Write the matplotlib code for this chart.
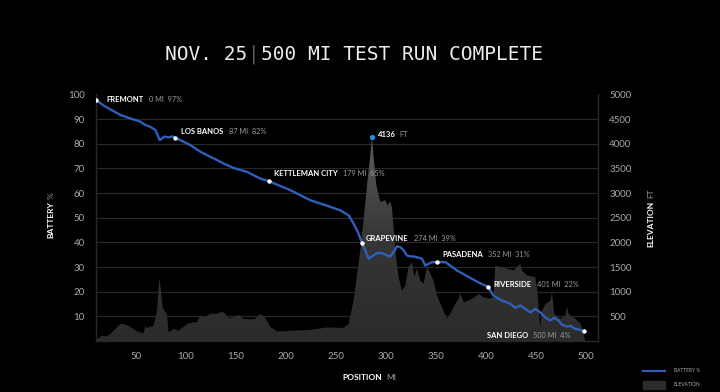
import numpy as np
import matplotlib.pyplot as plt
from matplotlib.colors import LinearSegmentedColormap
from matplotlib.lines import Line2D
from matplotlib.patches import Rectangle

# battery trace (position on chart axis, battery %)
bat_pos = [10.3, 14.3, 19.3, 34.3, 44.3, 54.3, 59.3, 64.3, 69.3, 71.6,
           73.6, 76.0, 78.3, 82.6, 86.0, 89.3, 104.3, 114.3, 121.0, 127.6,
           137.6, 147.6, 161.0, 174.3, 183.0, 204.3, 224.3, 241.0, 254.3, 262.6,
           267.6, 272.6, 276.0, 279.3, 282.6, 286.0, 291.0, 296.0, 301.0, 304.3,
           307.6, 311.0, 314.3, 317.6, 321.0, 324.3, 327.6, 332.6, 336.0, 339.3,
           342.6, 346.0, 350.6, 359.3, 364.3, 371.0, 376.0, 384.3, 394.3, 401.6,
           407.6, 414.3, 424.3, 429.3, 434.3, 439.3, 444.3, 449.3, 454.3, 459.3,
           464.3, 468.3, 472.6, 476.0, 481.0, 484.3, 489.3, 494.3, 498.3]
bat_pct = [97.8, 96.5, 95.1, 91.7, 90.3, 89.0, 87.6, 86.9, 85.6, 83.6,
           81.5, 82.2, 82.9, 82.6, 83.0, 82.5, 79.5, 76.8, 75.4, 74.1,
           72.0, 70.2, 68.6, 65.9, 64.8, 61.2, 57.1, 54.9, 53.0, 51.0,
           47.6, 43.5, 39.7, 36.8, 33.4, 34.3, 35.7, 35.7, 34.7, 34.3,
           36.1, 38.4, 38.1, 36.8, 34.7, 34.3, 34.3, 33.8, 33.4, 30.6,
           31.3, 32.0, 32.0, 32.0, 30.6, 28.6, 27.5, 25.6, 23.4, 22.1,
           18.4, 16.7, 15.1, 13.4, 14.4, 13.0, 11.6, 13.0, 11.6, 9.6,
           8.3, 9.4, 8.3, 6.6, 5.8, 6.2, 4.9, 4.5, 3.9]

# elevation profile (position, feet)
elev_pos = [10.0, 12.6, 16.0, 21.0, 26.0, 34.3, 37.6, 44.3, 51.0, 57.6,
            59.3, 61.0, 67.6, 71.0, 73.3, 75.0, 76.6, 79.3, 81.0, 82.6,
            87.6, 92.6, 97.6, 101.0, 107.6, 111.0, 114.3, 119.3, 124.3, 131.0,
            136.0, 139.3, 142.6, 147.6, 152.6, 157.6, 164.3, 169.3, 174.3, 179.3,
            184.3, 191.0, 207.6, 224.3, 241.0, 257.6, 262.6, 267.6, 274.3, 277.6,
            281.0, 284.3, 286.0, 287.6, 290.3, 294.3, 299.3, 301.6, 304.3, 306.0,
            309.3, 312.6, 316.0, 319.3, 322.6, 326.0, 328.3, 331.0, 334.3, 337.6,
            341.0, 344.3, 347.6, 351.0, 356.0, 361.0, 366.0, 369.3, 372.6, 374.3,
            377.6, 382.6, 387.6, 392.6, 397.6, 402.6, 407.6, 409.3, 414.3, 421.0,
            427.6, 431.0, 434.3, 436.0, 441.0, 449.3, 451.6, 454.3, 456.0, 459.3,
            464.3, 466.0, 468.3, 474.3, 479.3, 481.0, 482.6, 489.3, 494.3, 496.0,
            499.3]
elev_ft = [20, 60, 110, 90, 175, 345, 345, 290, 195, 155,
           310, 265, 310, 615, 1280, 1025, 685, 580, 550, 175,
           245, 210, 290, 345, 380, 380, 515, 480, 560, 550,
           595, 550, 470, 480, 530, 450, 435, 450, 550, 470,
           290, 195, 210, 225, 275, 265, 345, 820, 1840, 2450,
           3160, 3770, 4136, 3735, 3160, 2820, 2855, 2750, 2835, 2700,
           1840, 1295, 1025, 1125, 1500, 1600, 1295, 1465, 1225, 1160,
           1500, 1365, 1225, 920, 685, 450, 615, 750, 855, 970,
           785, 820, 875, 955, 885, 860, 885, 1530, 1500, 1465,
           1430, 1500, 1565, 1430, 1330, 1295, 955, 275, 615, 750,
           820, 990, 550, 450, 515, 700, 550, 450, 360, 275,
           0]

# stops
stop_names = ['FREMONT', 'LOS BANOS', 'KETTLEMAN CITY', 'GRAPEVINE',
              'PASADENA', 'RIVERSIDE', 'SAN DIEGO']
stop_miles = [0, 87, 179, 274, 352, 401, 500]
stop_labels = [97, 82, 65, 39, 31, 22, 4]
stop_pos = [10.3, 89.3, 183.0, 276.0, 350.6, 401.6, 498.3]
stop_pct = [97.8, 82.5, 64.8, 39.7, 32.0, 22.1, 3.9]
# label offsets in pixels from the stop marker
stop_offsets = [(10, 0), (6, 6), (5, 8), (4, 5), (6, 8), (6, 2), (-97, -4)]

peak_pos = 286.0
peak_ft = 4136

bat_ticks = [10, 20, 30, 40, 50, 60, 70, 80, 90, 100]
elev_ticks = [500, 1000, 1500, 2000, 2500, 3000, 3500, 4000, 4500, 5000]
pos_ticks = [50, 100, 150, 200, 250, 300, 350, 400, 450, 500]

BLUE = '#2f5fbb'
GRID = '#272727'
TICK = '#a8a8a8'
GREY = '#9a9a9a'
FONT = ['Lato', 'DejaVu Sans']

plt.rcParams['font.family'] = FONT

fig = plt.figure(figsize=(7.2, 3.92), dpi=100, facecolor='black')
ax2 = fig.add_axes([96 / 720, 1 - 341 / 392, 502 / 720, 246.5 / 392])
ax = ax2.twinx()
ax.yaxis.tick_left()
ax.yaxis.set_label_position('left')
ax.set_zorder(ax2.get_zorder() + 1)
ax.patch.set_visible(False)
ax2.set_facecolor('black')

# elevation with vertical gradient
poly = ax2.fill_between(elev_pos, elev_ft, 0, color='#333333', lw=0, zorder=2)
cmap = LinearSegmentedColormap.from_list('elev', ['#2b2b2b', '#363636', '#5e5e5e'])
grad = np.linspace(0, 1, 256).reshape(-1, 1)
img = ax2.imshow(grad, extent=[10, 512, 0, 4200], origin='lower', aspect='auto',
                 cmap=cmap, zorder=3)
img.set_clip_path(poly.get_paths()[0], transform=ax2.transData)
poly.set_visible(False)
ax2.set_xlim(10, 512)
ax2.set_ylim(0, 5000)
ax.set_ylim(0, 100)

ax.plot(bat_pos, bat_pct, color=BLUE, lw=1.7, solid_capstyle='round', zorder=3)
ax.scatter(stop_pos, stop_pct, s=10, color='white', zorder=5, lw=0)
ax2.scatter([peak_pos], [peak_ft], s=14, color='#2b8fe6', zorder=6, lw=0)

ax2.set_yticks(elev_ticks)
ax2.set_xticks(pos_ticks)
ax.set_yticks(bat_ticks)
ax2.yaxis.tick_right()
ax2.grid(axis='y', color=GRID, lw=0.9, zorder=1)
ax2.set_axisbelow(True)

for a in (ax, ax2):
    a.tick_params(length=0, colors=TICK, labelsize=7)
    for s in a.spines.values():
        s.set_color(GRID)
        s.set_linewidth(0.9)
    a.spines['top'].set_visible(False)
ax2.tick_params(axis='y', pad=8)
ax.tick_params(axis='y', pad=8)
ax2.tick_params(axis='x', pad=8)

# stop labels
for name, mi, pc, x, y, off in zip(stop_names, stop_miles, stop_labels,
                                    stop_pos, stop_pct, stop_offsets):
    t = ax.annotate(name, (x, y), xytext=off, textcoords='offset pixels',
                    ha='left', va='center', color='white', fontsize=5.5,
                    fontweight='bold', zorder=7)
    ax.annotate(f'{mi} MI  {pc}%', xy=(1, 0.5), xycoords=t, xytext=(5, 0),
                textcoords='offset pixels', ha='left', va='center',
                color=GREY, fontsize=5.3, zorder=7)

t = ax2.annotate(f'{peak_ft}', (peak_pos, peak_ft), xytext=(6, 3),
                 textcoords='offset pixels', ha='left', va='center',
                 color='white', fontsize=5.5, fontweight='bold')
ax2.annotate('FT', xy=(1, 0.5), xycoords=t, xytext=(4, 0),
             textcoords='offset pixels', ha='left', va='center',
             color=GREY, fontsize=5.3)

# axis titles
fig.text(51 / 720, 1 - 220 / 392, 'BATTERY', rotation=90, ha='center',
         va='center', color='white', fontsize=6, fontweight='bold')
fig.text(51 / 720, 1 - 196 / 392, '%', rotation=90, ha='center', va='center',
         color=GREY, fontsize=6)
fig.text(651 / 720, 1 - 224 / 392, 'ELEVATION', rotation=90, ha='center',
         va='center', color='white', fontsize=6, fontweight='bold')
fig.text(651 / 720, 1 - 193 / 392, 'FT', rotation=90, ha='center', va='center',
         color=GREY, fontsize=6)
fig.text(362 / 720, 1 - 378 / 392, 'POSITION', ha='center', va='center',
         color='white', fontsize=6, fontweight='bold')
fig.text(386 / 720, 1 - 378 / 392, 'MI', ha='left', va='center',
         color=GREY, fontsize=6)

# title
TFONT = ['DejaVu Sans Mono']
t1 = fig.text(165 / 720, 1 - 54 / 392, 'NOV. 25', ha='left', va='center',
              color='#ececec', fontsize=14, family=TFONT)
t2 = ax2.annotate('|', xy=(1, 0.5), xycoords=t1, xytext=(1, 0),
                  textcoords='offset pixels', ha='left', va='center',
                  color='#555555', fontsize=14, family=TFONT)
ax2.annotate('500 MI TEST RUN COMPLETE', xy=(1, 0.5), xycoords=t2,
             xytext=(1, 0), textcoords='offset pixels', ha='left',
             va='center', color='#ececec', fontsize=14, family=TFONT)

# legend
fig.add_artist(Line2D([643 / 720, 665 / 720], [1 - 370.5 / 392] * 2,
                      color=BLUE, lw=1.5, transform=fig.transFigure))
fig.add_artist(Rectangle((643 / 720, 1 - 389 / 392), 22 / 720, 8 / 392,
                         color='#2c2c2c', transform=fig.transFigure))
fig.text(674 / 720, 1 - 370.5 / 392, 'BATTERY %', ha='left', va='center',
         color='#b0b0b0', fontsize=3.5)
fig.text(674 / 720, 1 - 385 / 392, 'ELEVATION', ha='left', va='center',
         color='#b0b0b0', fontsize=3.5)

fig.savefig('out.png', dpi=100, facecolor='black')
